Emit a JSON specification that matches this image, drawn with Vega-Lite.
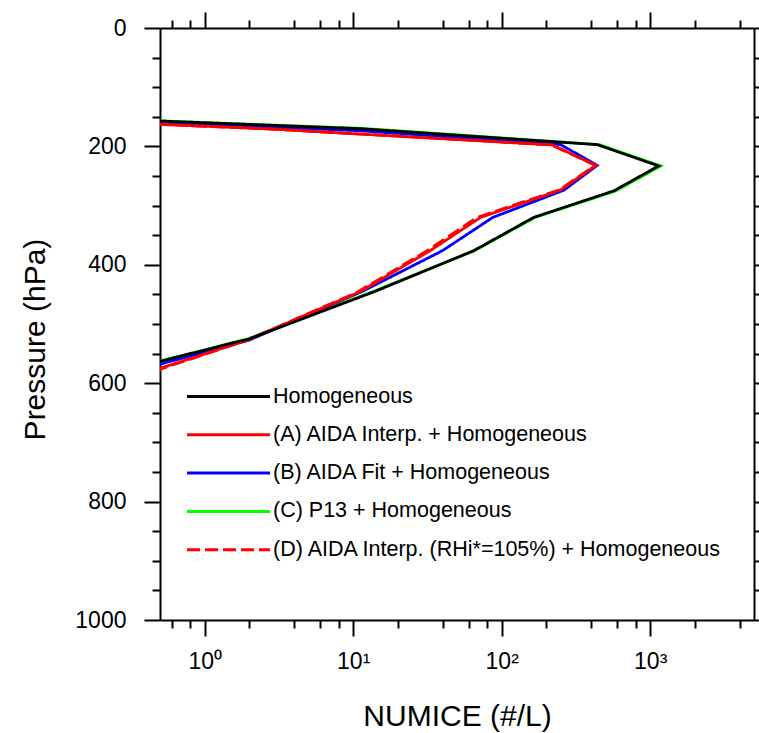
{
  "$schema": "https://vega.github.io/schema/vega-lite/v6.json",
  "width": 594,
  "height": 592,
  "autosize": {"type": "none"},
  "padding": {"left": 160, "top": 28, "right": 5, "bottom": 113},
  "background": "white",
  "config": {
    "view": {"stroke": null},
    "font": "Liberation Sans",
    "axis": {
      "grid": false,
      "domainColor": "black",
      "domainWidth": 2,
      "tickColor": "black",
      "tickWidth": 2,
      "labelColor": "black",
      "labelFont": "Liberation Sans",
      "titleFont": "Liberation Sans",
      "titleFontWeight": "normal",
      "titleColor": "black",
      "labelOverlap": false,
      "labelBound": false,
      "labelFlush": false
    },
    "legend": {
      "orient": "none",
      "legendX": 53,
      "legendY": 353,
      "symbolType": "M-3,0H3",
      "symbolSize": 765,
      "symbolStrokeWidth": 3,
      "labelFont": "Liberation Sans",
      "labelFontSize": 21.5,
      "labelColor": "black",
      "labelOffset": 29,
      "labelLimit": 0,
      "rowPadding": 12.3,
      "padding": 0
    }
  },
  "data": {
    "values": [
      {"series": "Homogeneous", "numice": 0.09, "pressure": 150},
      {"series": "Homogeneous", "numice": 11, "pressure": 170},
      {"series": "Homogeneous", "numice": 440, "pressure": 197},
      {"series": "Homogeneous", "numice": 1140, "pressure": 233},
      {"series": "Homogeneous", "numice": 570, "pressure": 275},
      {"series": "Homogeneous", "numice": 164, "pressure": 320},
      {"series": "Homogeneous", "numice": 65, "pressure": 376},
      {"series": "Homogeneous", "numice": 14, "pressure": 445},
      {"series": "Homogeneous", "numice": 2.0, "pressure": 525},
      {"series": "Homogeneous", "numice": 0.13, "pressure": 600},

      {"series": "(A) AIDA Interp. + Homogeneous", "numice": 0.03, "pressure": 150},
      {"series": "(A) AIDA Interp. + Homogeneous", "numice": 3, "pressure": 171},
      {"series": "(A) AIDA Interp. + Homogeneous", "numice": 219, "pressure": 197.5},
      {"series": "(A) AIDA Interp. + Homogeneous", "numice": 430, "pressure": 232},
      {"series": "(A) AIDA Interp. + Homogeneous", "numice": 250, "pressure": 273.5},
      {"series": "(A) AIDA Interp. + Homogeneous", "numice": 72, "pressure": 320},
      {"series": "(A) AIDA Interp. + Homogeneous", "numice": 33, "pressure": 376},
      {"series": "(A) AIDA Interp. + Homogeneous", "numice": 11, "pressure": 446},
      {"series": "(A) AIDA Interp. + Homogeneous", "numice": 1.9, "pressure": 528},
      {"series": "(A) AIDA Interp. + Homogeneous", "numice": 0.12, "pressure": 625},

      {"series": "(B) AIDA Fit + Homogeneous", "numice": 0.05, "pressure": 150},
      {"series": "(B) AIDA Fit + Homogeneous", "numice": 11, "pressure": 173.5},
      {"series": "(B) AIDA Fit + Homogeneous", "numice": 249, "pressure": 197},
      {"series": "(B) AIDA Fit + Homogeneous", "numice": 440, "pressure": 232},
      {"series": "(B) AIDA Fit + Homogeneous", "numice": 262, "pressure": 274},
      {"series": "(B) AIDA Fit + Homogeneous", "numice": 87, "pressure": 320},
      {"series": "(B) AIDA Fit + Homogeneous", "numice": 40, "pressure": 376},
      {"series": "(B) AIDA Fit + Homogeneous", "numice": 11.5, "pressure": 445},
      {"series": "(B) AIDA Fit + Homogeneous", "numice": 2.0, "pressure": 527},
      {"series": "(B) AIDA Fit + Homogeneous", "numice": 0.12, "pressure": 610},

      {"series": "(C) P13 + Homogeneous", "numice": 0.095, "pressure": 150},
      {"series": "(C) P13 + Homogeneous", "numice": 11.5, "pressure": 169.5},
      {"series": "(C) P13 + Homogeneous", "numice": 455, "pressure": 197},
      {"series": "(C) P13 + Homogeneous", "numice": 1180, "pressure": 233},
      {"series": "(C) P13 + Homogeneous", "numice": 590, "pressure": 275},
      {"series": "(C) P13 + Homogeneous", "numice": 168, "pressure": 320},
      {"series": "(C) P13 + Homogeneous", "numice": 66, "pressure": 376},
      {"series": "(C) P13 + Homogeneous", "numice": 13.6, "pressure": 445},
      {"series": "(C) P13 + Homogeneous", "numice": 1.95, "pressure": 525},
      {"series": "(C) P13 + Homogeneous", "numice": 0.13, "pressure": 600},

      {"series": "(D) AIDA Interp. (RHi*=105%) + Homogeneous", "numice": 0.03, "pressure": 150},
      {"series": "(D) AIDA Interp. (RHi*=105%) + Homogeneous", "numice": 3, "pressure": 171},
      {"series": "(D) AIDA Interp. (RHi*=105%) + Homogeneous", "numice": 216, "pressure": 197.5},
      {"series": "(D) AIDA Interp. (RHi*=105%) + Homogeneous", "numice": 427, "pressure": 232},
      {"series": "(D) AIDA Interp. (RHi*=105%) + Homogeneous", "numice": 244, "pressure": 273.5},
      {"series": "(D) AIDA Interp. (RHi*=105%) + Homogeneous", "numice": 68, "pressure": 320},
      {"series": "(D) AIDA Interp. (RHi*=105%) + Homogeneous", "numice": 31.5, "pressure": 376},
      {"series": "(D) AIDA Interp. (RHi*=105%) + Homogeneous", "numice": 10.7, "pressure": 446},
      {"series": "(D) AIDA Interp. (RHi*=105%) + Homogeneous", "numice": 1.9, "pressure": 528},
      {"series": "(D) AIDA Interp. (RHi*=105%) + Homogeneous", "numice": 0.12, "pressure": 628}
    ]
  },
  "layer": [
    {
      "encoding": {
        "x": {
          "field": "numice", "type": "quantitative",
          "scale": {"type": "log", "domain": [0.5, 5000], "nice": false},
          "axis": {
            "orient": "bottom",
            "values": [0.6, 0.8, 1, 2, 4, 6, 8, 10, 20, 40, 60, 80, 100, 200, 400, 600, 800, 1000, 2000, 4000],
            "tickSize": {"condition": {"test": "indexof([1, 10, 100, 1000], datum.value) >= 0", "value": 16}, "value": 8},
            "labelExpr": "datum.value == 1 ? '10⁰' : datum.value == 10 ? '10¹' : datum.value == 100 ? '10²' : datum.value == 1000 ? '10³' : ''",
            "labelFontSize": 23,
            "labelPadding": 14,
            "title": "NUMICE (#/L)",
            "titleFontSize": 30,
            "titlePadding": 28
          }
        },
        "y": {
          "field": "pressure", "type": "quantitative",
          "scale": {"domain": [0, 1000], "reverse": true, "nice": false},
          "axis": {
            "orient": "left",
            "values": [0, 50, 100, 150, 200, 250, 300, 350, 400, 450, 500, 550, 600, 650, 700, 750, 800, 850, 900, 950, 1000],
            "tickSize": {"condition": {"test": "datum.value % 200 == 0", "value": 16}, "value": 8},
            "format": "d",
            "labelExpr": "datum.value % 200 == 0 ? datum.label : ''",
            "labelFontSize": 23,
            "labelPadding": 18,
            "title": "Pressure (hPa)",
            "titleFontSize": 30,
            "titlePadding": 24,
            "titleY": 311
          }
        },
        "order": {"field": "pressure", "type": "quantitative"},
        "color": {
          "field": "series", "type": "nominal",
          "scale": {
            "domain": ["Homogeneous", "(A) AIDA Interp. + Homogeneous", "(B) AIDA Fit + Homogeneous", "(C) P13 + Homogeneous", "(D) AIDA Interp. (RHi*=105%) + Homogeneous"],
            "range": ["#000000", "#ff0000", "#0000ff", "#00ff00", "#ff0000"]
          },
          "legend": {"title": null}
        },
        "strokeDash": {
          "field": "series", "type": "nominal",
          "scale": {
            "domain": ["Homogeneous", "(A) AIDA Interp. + Homogeneous", "(B) AIDA Fit + Homogeneous", "(C) P13 + Homogeneous", "(D) AIDA Interp. (RHi*=105%) + Homogeneous"],
            "range": [[1, 0], [1, 0], [1, 0], [1, 0], [13, 5]]
          },
          "legend": {"title": null}
        }
      },
      "layer": [
        {"transform": [{"filter": "datum.series == '(C) P13 + Homogeneous'"}], "mark": {"type": "line", "strokeWidth": 2.8, "clip": true}},
        {"transform": [{"filter": "datum.series == '(B) AIDA Fit + Homogeneous'"}], "mark": {"type": "line", "strokeWidth": 2.8, "clip": true}},
        {"transform": [{"filter": "datum.series == '(A) AIDA Interp. + Homogeneous'"}], "mark": {"type": "line", "strokeWidth": 2.8, "clip": true}},
        {"transform": [{"filter": "datum.series == '(D) AIDA Interp. (RHi*=105%) + Homogeneous'"}], "mark": {"type": "line", "strokeWidth": 2.8, "clip": true}}
      ]
    },
    {
      "transform": [{"filter": "datum.series == 'Homogeneous'"}],
      "mark": {"type": "line", "strokeWidth": 2.8, "clip": true},
      "encoding": {
        "x": {
          "field": "numice", "type": "quantitative",
          "scale": {"type": "log", "domain": [0.5, 5000], "nice": false},
          "axis": {
            "orient": "top",
            "values": [0.6, 0.8, 1, 2, 4, 6, 8, 10, 20, 40, 60, 80, 100, 200, 400, 600, 800, 1000, 2000, 4000],
            "tickSize": {"condition": {"test": "indexof([1, 10, 100, 1000], datum.value) >= 0", "value": 16}, "value": 8},
            "labels": false,
            "title": null
          }
        },
        "y": {
          "field": "pressure", "type": "quantitative",
          "scale": {"domain": [0, 1000], "reverse": true, "nice": false},
          "axis": {
            "orient": "right",
            "values": [0, 50, 100, 150, 200, 250, 300, 350, 400, 450, 500, 550, 600, 650, 700, 750, 800, 850, 900, 950, 1000],
            "tickSize": {"condition": {"test": "datum.value % 200 == 0", "value": 16}, "value": 8},
            "labels": false,
            "title": null
          }
        },
        "order": {"field": "pressure", "type": "quantitative"},
        "color": {"field": "series", "type": "nominal", "legend": {"title": null}},
        "strokeDash": {"field": "series", "type": "nominal", "legend": {"title": null}}
      }
    }
  ],
  "resolve": {"axis": {"x": "independent", "y": "independent"}}
}
